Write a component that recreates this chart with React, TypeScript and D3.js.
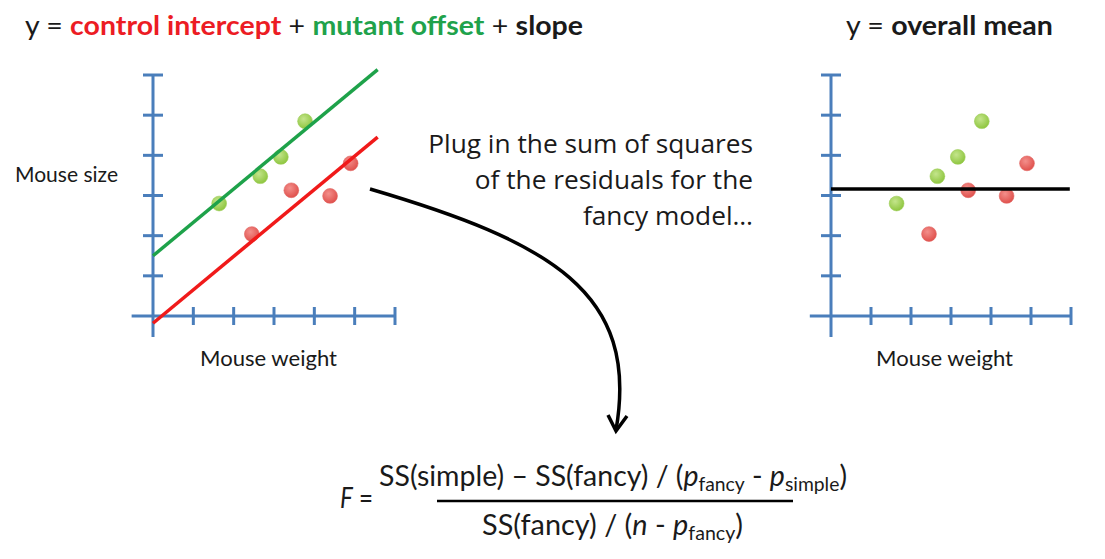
import React, { useRef, useEffect } from 'react';
import * as d3 from 'd3';

// data (axis units: one tick = 1)
const controlX = [2.45, 3.43, 4.39, 4.9];
const controlY = [2.04, 3.13, 2.99, 3.8];
const mutantX = [1.64, 2.66, 3.17, 3.77];
const mutantY = [2.8, 3.48, 3.96, 4.85];
const axisTicks = [1, 2, 3, 4, 5, 6];

const controlIntercept = -0.18;
const mutantOffset = 1.68;
const slope = 0.832;
const fitXRange = [0, 5.57];
const overallMean = 3.16;
const meanXRange = [0, 5.97];

const noteLines = ['Plug in the sum of squares', 'of the residuals for the', 'fancy model…'];

const FONT = 'Lato, "Open Sans", sans-serif';
const NOTE_FONT = '"Open Sans", Lato, sans-serif';
const AXIS_BLUE = '#4a7ebb';
const TEXT = '#1a1a1a';

const App: React.FC = () => {
  const ref = useRef<SVGSVGElement | null>(null);

  useEffect(() => {
    if (!ref.current) return;
    const svg = d3.select(ref.current);
    svg.selectAll('*').remove();

    const defs = svg.append('defs');
    const grad = (id: string, c0: string, c1: string) => {
      const g = defs.append('radialGradient').attr('id', id)
        .attr('cx', '40%').attr('cy', '35%').attr('r', '65%');
      g.append('stop').attr('offset', '0%').attr('stop-color', c0);
      g.append('stop').attr('offset', '100%').attr('stop-color', c1);
    };
    grad('gGreen', '#c4e58c', '#8fc640');
    grad('gRed', '#f38f8b', '#e0514d');

    const y = d3.scaleLinear().domain([0, 6]).range([316, 75]);

    // one panel: axes + points + fitted lines
    const panel = (x0: number, x1: number, drawFit: (g: any, x: d3.ScaleLinear<number, number>) => void) => {
      const x = d3.scaleLinear().domain([0, 6]).range([x0, x1]);
      const g = svg.append('g');
      const ax = g.append('g').attr('stroke', AXIS_BLUE).attr('stroke-width', 3);
      ax.append('line').attr('x1', x(-0.53)).attr('x2', x(6)).attr('y1', y(0)).attr('y2', y(0));
      ax.append('line').attr('x1', x(0)).attr('x2', x(0)).attr('y1', y(-0.52)).attr('y2', y(6));
      ax.selectAll('.xt').data(axisTicks).join('line')
        .attr('x1', d => x(d)).attr('x2', d => x(d))
        .attr('y1', y(0) - 9).attr('y2', y(0) + 9);
      ax.selectAll('.yt').data(axisTicks).join('line')
        .attr('x1', x(0) - 10).attr('x2', x(0) + 10)
        .attr('y1', d => y(d)).attr('y2', d => y(d));

      const pts = g.append('g');
      pts.selectAll('.m').data(mutantX.map((v, i) => [v, mutantY[i]])).join('circle')
        .attr('cx', d => x(d[0])).attr('cy', d => y(d[1])).attr('r', 7.4)
        .attr('fill', 'url(#gGreen)').attr('stroke', '#9ccc55').attr('stroke-width', 0.6);
      pts.selectAll('.c').data(controlX.map((v, i) => [v, controlY[i]])).join('circle')
        .attr('cx', d => x(d[0])).attr('cy', d => y(d[1])).attr('r', 7.4)
        .attr('fill', 'url(#gRed)').attr('stroke', '#e06562').attr('stroke-width', 0.6);

      drawFit(g, x);
    };

    panel(153, 395, (g, x) => {
      const line = d3.line<number>().x(d => x(d));
      g.append('path')
        .attr('d', line.y(d => y(controlIntercept + mutantOffset + slope * d))(fitXRange))
        .attr('stroke', '#1ea24a').attr('stroke-width', 3.5).attr('fill', 'none');
      g.append('path')
        .attr('d', line.y(d => y(controlIntercept + slope * d))(fitXRange))
        .attr('stroke', '#f01a1a').attr('stroke-width', 3.5).attr('fill', 'none');
    });

    panel(831, 1071, (g, x) => {
      g.append('line')
        .attr('x1', x(meanXRange[0])).attr('x2', x(meanXRange[1]))
        .attr('y1', y(overallMean)).attr('y2', y(overallMean))
        .attr('stroke', '#000').attr('stroke-width', 3.5);
    });

    const txt = (x: number, yy: number, size: number, len?: number, anchor = 'start', font = FONT) => {
      const t = svg.append('text').attr('x', x).attr('y', yy)
        .attr('font-family', font).attr('font-size', size).attr('fill', TEXT)
        .attr('text-anchor', anchor);
      if (len) t.attr('textLength', len).attr('lengthAdjust', 'spacingAndGlyphs');
      return t;
    };

    // titles
    const t1 = txt(25, 35, 26, 558);
    t1.append('tspan').text('y = ');
    t1.append('tspan').attr('font-weight', 'bold').attr('fill', '#ec1c24').text('control intercept');
    t1.append('tspan').text(' + ');
    t1.append('tspan').attr('font-weight', 'bold').attr('fill', '#20a24b').text('mutant offset');
    t1.append('tspan').text(' + ');
    t1.append('tspan').attr('font-weight', 'bold').text('slope');

    const t2 = txt(846, 35, 26, 207);
    t2.append('tspan').text('y = ');
    t2.append('tspan').attr('font-weight', 'bold').text('overall mean');

    // axis labels
    txt(15, 182, 22, 103).text('Mouse size');
    txt(200, 366, 22, 137).text('Mouse weight');
    txt(876, 366, 22, 137).text('Mouse weight');

    // note: one shared size, fitted so the first line is ~325px wide
    const note = noteLines.map((s, i) =>
      txt(753, 153 + i * 36, 24, 0, 'end', NOTE_FONT).text(s));
    const w0 = (note[0].node() as SVGTextElement).getComputedTextLength();
    const noteSize = w0 > 0 ? Math.min(28, Math.max(20, 24 * 325 / w0)) : 24;
    note.forEach(t => t.attr('font-size', noteSize));

    // arrow
    svg.append('path')
      .attr('d', 'M370,189 C550,242 640,292 616,430')
      .attr('fill', 'none').attr('stroke', '#000').attr('stroke-width', 3.5);
    svg.append('path')
      .attr('d', 'M608,415 L616,431 L627,416')
      .attr('fill', 'none').attr('stroke', '#000').attr('stroke-width', 3.5)
      .attr('stroke-linejoin', 'miter');

    // formula
    const fF = txt(340, 508, 28, 33);
    fF.append('tspan').attr('font-style', 'italic').text('F');
    fF.append('tspan').text(' =');

    const num = txt(379, 486, 28, 468);
    num.append('tspan').text('SS(simple) – SS(fancy) / (');
    num.append('tspan').attr('font-style', 'italic').text('p');
    num.append('tspan').attr('font-size', 19).attr('dy', 5).text('fancy');
    num.append('tspan').attr('dy', -5).text(' - ');
    num.append('tspan').attr('font-style', 'italic').text('p');
    num.append('tspan').attr('font-size', 19).attr('dy', 5).text('simple');
    num.append('tspan').attr('dy', -5).text(')');

    svg.append('line').attr('x1', 437).attr('x2', 793).attr('y1', 501).attr('y2', 501)
      .attr('stroke', '#000').attr('stroke-width', 2.5);

    const den = txt(482, 535, 28, 261);
    den.append('tspan').text('SS(fancy) / (');
    den.append('tspan').attr('font-style', 'italic').text('n');
    den.append('tspan').text(' - ');
    den.append('tspan').attr('font-style', 'italic').text('p');
    den.append('tspan').attr('font-size', 19).attr('dy', 5).text('fancy');
    den.append('tspan').attr('dy', -5).text(')');
  }, []);

  return (
    <svg ref={ref} width={1105} height={559}
      style={{ position: 'absolute', left: 0, top: 0, background: '#fff' }} />
  );
};

export default App;
